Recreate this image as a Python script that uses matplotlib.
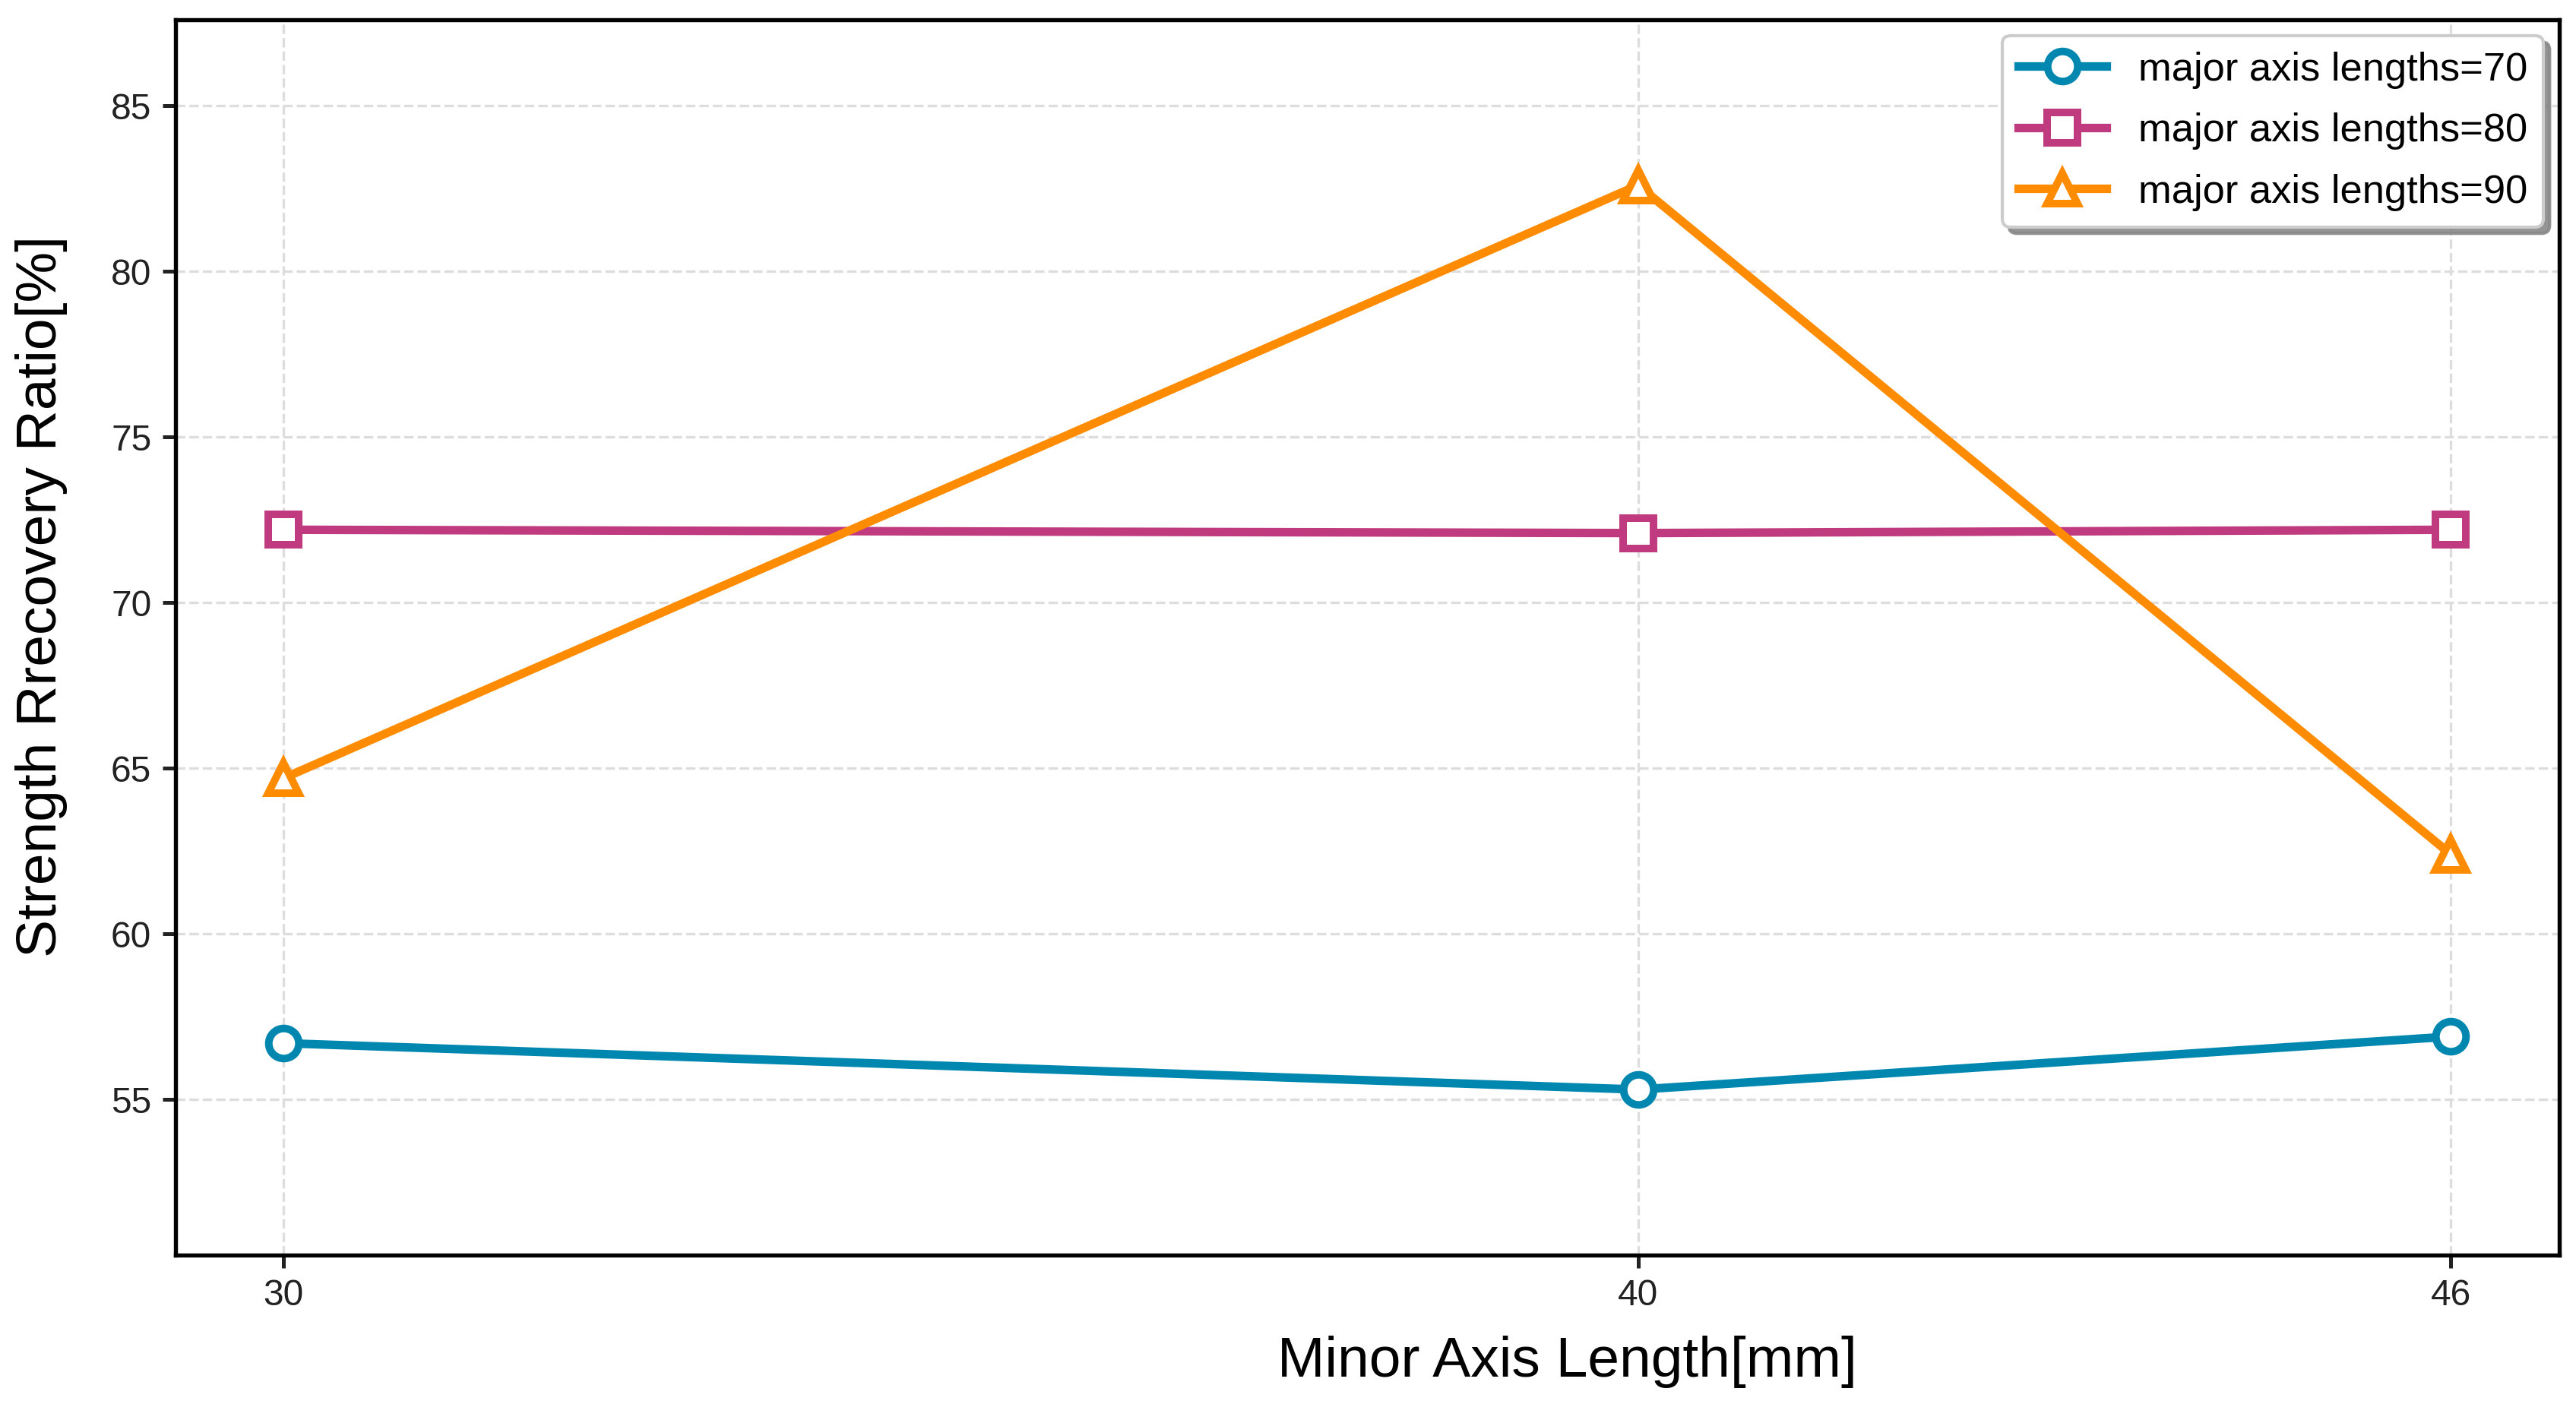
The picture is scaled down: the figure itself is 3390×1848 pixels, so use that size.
import matplotlib
matplotlib.use('Agg')
import matplotlib.pyplot as plt

plt.rcParams['font.family'] = ['Liberation Sans', 'DejaVu Sans']

minor_axis = [30, 40, 46]
ratio_70 = [56.7, 55.3, 56.9]
ratio_80 = [72.2, 72.1, 72.2]
ratio_90 = [64.7, 82.6, 62.4]

labels = ['major axis lengths=70', 'major axis lengths=80', 'major axis lengths=90']
colors = ['#0087b0', '#bf3a7e', '#ff8c00']
markers = ['o', 's', '^']

fig = plt.figure(figsize=(11.3, 6.16), dpi=300)
ax = fig.add_axes([0.068, 0.106, 0.9255, 0.88])

for ys, lab, c, m in zip([ratio_70, ratio_80, ratio_90], labels, colors, markers):
    ax.plot(minor_axis, ys, color=c, marker=m, markersize=9.5, markerfacecolor='white',
            markeredgecolor=c, markeredgewidth=2.4, linewidth=2.7, label=lab, zorder=3)

allv = ratio_70 + ratio_80 + ratio_90
ax.set_ylim(min(allv) - 5, max(allv) + 5)
ax.set_xlim(29.2, 46.8)
ax.set_xticks(minor_axis)
ax.set_yticks([55, 60, 65, 70, 75, 80, 85])
ax.tick_params(labelsize=11.5, length=4, width=1.2, colors='#222222')
ax.grid(True, linestyle='--', color='#dddddd', linewidth=0.8)
for s in ax.spines.values():
    s.set_linewidth(1.3)

ax.set_xlabel('Minor Axis Length[mm]', fontsize=18)
ax.set_ylabel('Strength Rrecovery Ratio[%]', fontsize=18)
ax.xaxis.set_label_coords(0.584, -0.065)
ax.yaxis.set_label_coords(-0.045, 0.533)

leg = ax.legend(loc='upper right', fontsize=12.6, shadow={'color': '#888888', 'alpha': 0.9},
                fancybox=True, handlelength=2.2, labelspacing=0.6,
                borderaxespad=0.4, framealpha=1)
leg.get_frame().set_edgecolor('#cccccc')

fig.savefig('out.png', dpi=300)
